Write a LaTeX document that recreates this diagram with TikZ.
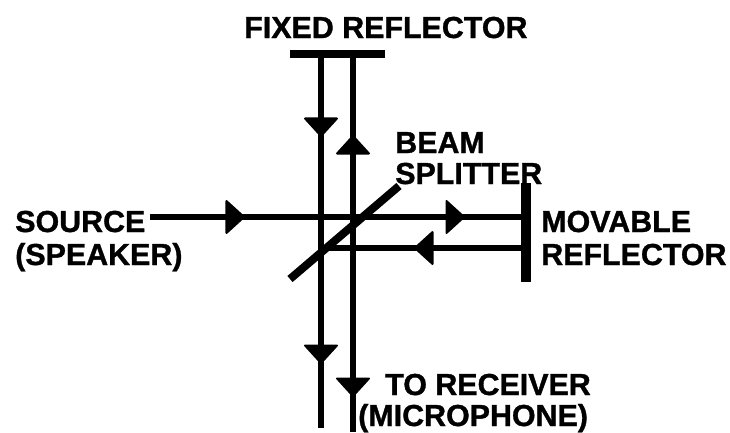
\documentclass[tikz,border=0pt]{standalone}
\usepackage{fontspec}
\setmainfont[BoldFeatures={FakeBold=1.1}]{Liberation Sans}
\usetikzlibrary{arrows.meta}

\begin{document}
\begin{tikzpicture}[x=0.75pt, y=-0.75pt,
    beam/.style={line width=4.4pt},
    mirror/.style={line width=6pt},
    headtip/.style={line width=4.4pt, -{Triangle[length=15pt, width=27pt, line width=1.5pt, line join=round, fill=black]}},
    lbl/.style={anchor=base west, inner sep=0pt, font=\fontsize{22.8}{24}\bfseries\selectfont}]
\useasboundingbox (0,0) rectangle (730,432);

% Reflectors
\coordinate (fixedA) at (290,54);
\coordinate (fixedB) at (385,54);
\coordinate (moveA) at (526,183);
\coordinate (moveB) at (526,282);
\coordinate (splitA) at (290,279);
\coordinate (splitB) at (399,186);
\draw[mirror] (fixedA) -- (fixedB);
\draw[mirror, line width=8pt] (moveA) -- (moveB);
\draw[mirror] (splitA) -- (splitB);

% Beam end points
\coordinate (leftTop) at (321,54);
\coordinate (rightTop) at (353,54);
\coordinate (leftEnd) at (321,428);
\coordinate (rightEnd) at (353,432);
\coordinate (srcStart) at (150,217);
\coordinate (outEnd) at (526,217);
\coordinate (backStart) at (526,248);
\coordinate (backEnd) at (321,248);

% Beams
\draw[beam] (leftTop) -- (leftEnd);
\draw[beam] (rightTop) -- (rightEnd);
\draw[beam] (srcStart) -- (outEnd);
\draw[beam] (backStart) -- (backEnd);

% Arrow heads
\coordinate (tipA) at (321,137);
\coordinate (tipB) at (353,135);
\coordinate (tipC) at (245,217);
\coordinate (tipD) at (465,217);
\coordinate (tipE) at (414,248);
\coordinate (tipF) at (321,364);
\coordinate (tipG) at (353,397);
\draw[headtip] (leftTop) -- (tipA);
\draw[headtip] (rightEnd) -- (tipB);
\draw[headtip] (srcStart) -- (tipC);
\draw[headtip] (srcStart) -- (tipD);
\draw[headtip] (backStart) -- (tipE);
\draw[headtip] (leftTop) -- (tipF);
\draw[headtip] (rightTop) -- (tipG);

% Labels
\node[lbl] (fixedLbl) at (244,38) {FIXED REFLECTOR};
\node[lbl] (beamLbl) at (395,153) {BEAM};
\node[lbl] (splitLbl) at (395,184) {SPLITTER};
\node[lbl] (srcLbl) at (15,232) {SOURCE};
\node[lbl] (spkLbl) at (15,265) {(SPEAKER)};
\node[lbl] (moveLbl) at (541,232) {MOVABLE};
\node[lbl] (reflLbl) at (541,265) {REFLECTOR};
\node[lbl] (recvLbl) at (385,395) {TO RECEIVER};
\node[lbl] (micLbl) at (358,426) {(MICROPHONE)};

\end{tikzpicture}
\end{document}
